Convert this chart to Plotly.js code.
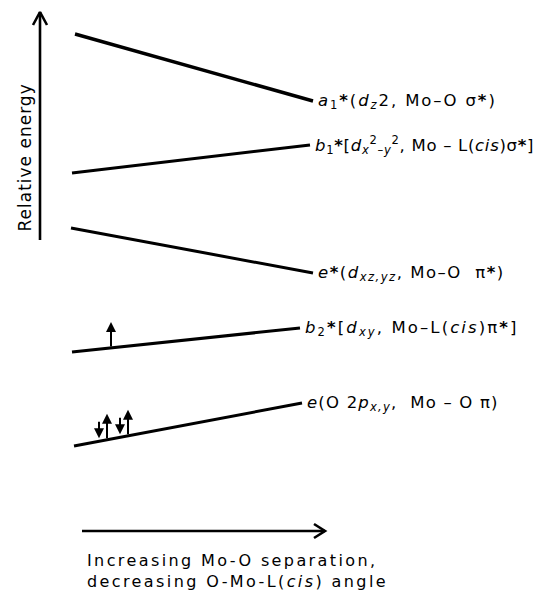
<!DOCTYPE html>
<html>
<head>
<meta charset="utf-8">
<script src="https://cdn.plot.ly/plotly-3.0.1.min.js"></script>
<style>html,body{margin:0;padding:0;background:#fff;}#chart{width:534px;height:594px;}</style>
</head>
<body>
<div id="chart"></div>
<script>
// Orbital levels (relative energy, arbitrary units; x = reaction coordinate)
const levelLabels = [
  "<i>a</i><sub>1</sub><b>*</b>(<i>d</i><sub><i>z</i></sub>2, Mo–O σ<b>*</b>)",
  "<i>b</i><sub>1</sub><b>*</b>[<i>d</i><sub><i>x</i></sub><sup>2</sup><sub>–<i>y</i></sub><sup>2</sup>, Mo – L(<i>cis</i>)σ<b>*</b>]",
  "<i>e</i><b>*</b>(<i>d</i><sub><i>xz,yz</i></sub>, Mo–O  π<b>*</b>)",
  "<i>b</i><sub>2</sub><b>*</b>[<i>d</i><sub><i>xy</i></sub>, Mo–L(<i>cis</i>)π<b>*</b>]",
  "<i>e</i>(O 2<i>p</i><sub><i>x,y</i></sub>,  Mo – O π)"
];
const levelXStart = [75, 72, 71, 72, 74];
const levelXEnd   = [313, 310, 313, 300, 302];
const levelEStart = [560, 421, 366, 242, 148];
const levelEEnd   = [493, 449, 321, 266, 191];

// Electrons: x position, level index, spin (+1 up, -1 down)
const spinX     = [111, 99, 107, 120, 128];
const spinLevel = [3, 4, 4, 4, 4];
const spinDir   = [1, -1, 1, -1, 1];

// Axis arrows
const energyAxisX = [40, 40];
const energyAxisE = [354, 582];
const coordAxisX  = [82, 325];
const coordAxisE  = [63, 63];
const energyTitle = "Relative energy";
const coordTitle  = "Increasing Mo-O separation,<br>decreasing O-Mo-L(<i>cis</i>) angle";

const FONT = "DejaVu Sans, sans-serif";
const labelSpacing = ["1.9px", "0.7px", "1.5px", "2.1px", "1.2px"];
const traces = [];
const annotations = [];
const spacing = [];

function levelAt(i, x) {
  const t = (x - levelXStart[i]) / (levelXEnd[i] - levelXStart[i]);
  return levelEStart[i] + t * (levelEEnd[i] - levelEStart[i]);
}

levelLabels.forEach((lab, i) => {
  traces.push({
    type: "scatter", mode: "lines",
    x: [levelXStart[i], levelXEnd[i]],
    y: [levelEStart[i], levelEEnd[i]],
    line: {color: "#000", width: i === 0 ? 3.4 : 3},
    hoverinfo: "skip"
  });
  annotations.push({
    x: levelXEnd[i], y: levelEEnd[i], xref: "x", yref: "y",
    text: lab, showarrow: false, xanchor: "left", yanchor: "middle", align: "left",
    xshift: 3, font: {family: FONT, size: 16.5, color: "#000"}
  });
  spacing.push(labelSpacing[i]);
});

// electron spin arrows
spinX.forEach((x, k) => {
  const base = levelAt(spinLevel[k], x);
  let tail, tip;
  if (spinDir[k] > 0) { tail = base; tip = base + 26; }
  else { tail = base + 21; tip = base + 3; }
  annotations.push({
    x: x, y: tip, ax: x, ay: tail, xref: "x", yref: "y", axref: "x", ayref: "y",
    text: "", showarrow: true, arrowhead: 2, arrowsize: 1, arrowwidth: 2,
    arrowcolor: "#000", standoff: 0, startstandoff: 0
  });
  spacing.push(null);
});

// energy axis (vertical arrow with open chevron)
traces.push({
  type: "scatter", mode: "lines",
  x: [energyAxisX[0], energyAxisX[1], null, energyAxisX[1] - 7, energyAxisX[1], energyAxisX[1] + 7],
  y: [energyAxisE[0], energyAxisE[1], null, energyAxisE[1] - 13, energyAxisE[1], energyAxisE[1] - 13],
  line: {color: "#000", width: 2.6}, hoverinfo: "skip"
});
// coordinate axis (horizontal arrow)
traces.push({
  type: "scatter", mode: "lines",
  x: [coordAxisX[0], coordAxisX[1], null, coordAxisX[1] - 11, coordAxisX[1], coordAxisX[1] - 11],
  y: [coordAxisE[0], coordAxisE[1], null, coordAxisE[1] + 7, coordAxisE[1], coordAxisE[1] - 7],
  line: {color: "#000", width: 2.6}, hoverinfo: "skip"
});

annotations.push({
  x: 25, y: 436, xref: "x", yref: "y", text: energyTitle, textangle: -90,
  showarrow: false, xanchor: "center", yanchor: "middle",
  font: {family: FONT, size: 17, color: "#000"}
});
spacing.push("1px");
annotations.push({
  x: 85, y: 23, xref: "x", yref: "y", text: coordTitle, align: "left",
  showarrow: false, xanchor: "left", yanchor: "middle",
  font: {family: FONT, size: 16, color: "#000"}
});
spacing.push("2.4px");

const layout = {
  width: 534, height: 594,
  margin: {l: 0, r: 0, t: 0, b: 0},
  paper_bgcolor: "#fff", plot_bgcolor: "#fff",
  showlegend: false,
  xaxis: {range: [0, 534], visible: false, fixedrange: true},
  yaxis: {range: [0, 594], visible: false, fixedrange: true},
  annotations: annotations
};
Plotly.newPlot("chart", traces, layout, {displayModeBar: false, staticPlot: true}).then(gd => {
  spacing.forEach((s, i) => {
    if (!s) return;
    const t = gd.querySelector('.annotation[data-index="' + i + '"] text.annotation-text');
    if (t) t.style.letterSpacing = s;
  });
});
</script>
</body>
</html>
